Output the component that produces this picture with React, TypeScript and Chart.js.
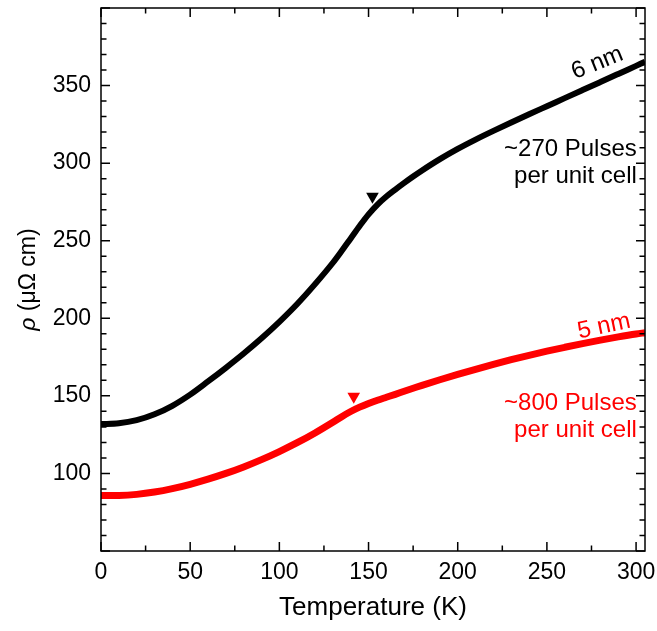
import React, { useEffect, useRef } from "react";
import { Chart, registerables } from "chart.js";

Chart.register(...registerables);

const FONT = "'Liberation Sans', Arial, sans-serif";

// Temperature (K)
const temps = [0, 10, 20, 30, 40, 50, 60, 70, 80, 90, 100, 110, 120, 130, 135, 140, 145, 150, 155, 160, 165, 170, 175, 180, 190, 200, 210, 220, 230, 240, 250, 260, 270, 280, 290, 300, 305];
// 6 nm film resistivity (µΩ cm)
const rho6nm = [131.8, 132.3, 134.3, 138.1, 143.6, 150.8, 159.3, 168.1, 177.3, 187.1, 197.7, 209.2, 222, 235.8, 243.5, 251.5, 259.5, 267, 273.3, 278.5, 283, 287.3, 291.4, 295.3, 302.6, 309.2, 315.2, 320.8, 326.2, 331.5, 336.7, 341.9, 347.1, 352.3, 357.5, 362.7, 365.3];
// 5 nm film resistivity (µΩ cm)
const rho5nm = [85.7, 85.8, 86.5, 88, 90.2, 93, 96.3, 100, 104.2, 108.9, 114.1, 119.8, 126.1, 133, 136.6, 139.9, 142.7, 145.1, 147.2, 149.1, 151, 153, 154.9, 156.8, 160.4, 163.8, 167.1, 170.3, 173.3, 176.1, 178.8, 181.3, 183.7, 185.9, 188, 189.9, 190.7];

// transition markers
const marker6T = [152.2];
const marker6Rho = [278.5];
const marker5T = [141.7];
const marker5Rho = [149.6];

const xTickValues = [0, 50, 100, 150, 200, 250, 300];
const yTickValues = [100, 150, 200, 250, 300, 350];

const framePlugin = {
  id: "framePlugin",
  afterDatasetsDraw(chart: any) {
    const { ctx, scales } = chart;
    const x = scales.x;
    const y = scales.y;
    ctx.save();
    const drawRot = (text: string, tx: number, ty: number, ang: number, color: string) => {
      ctx.save();
      ctx.translate(x.getPixelForValue(tx), y.getPixelForValue(ty));
      ctx.rotate((ang * Math.PI) / 180);
      ctx.fillStyle = color;
      ctx.font = `24px ${FONT}`;
      ctx.textAlign = "center";
      ctx.textBaseline = "middle";
      ctx.fillText(text, 0, 0);
      ctx.restore();
    };
    drawRot("6 nm", 278.3, 364.4, -22, "#000");
    drawRot("5 nm", 282, 194.7, -12, "#ff0000");
    ctx.font = `24px ${FONT}`;
    ctx.textAlign = "right";
    ctx.textBaseline = "alphabetic";
    ctx.fillStyle = "#000";
    ctx.fillText("~270 Pulses", x.getPixelForValue(300.4), y.getPixelForValue(304.6));
    ctx.fillText("per unit cell", x.getPixelForValue(300.4), y.getPixelForValue(287.2));
    ctx.fillStyle = "#ff0000";
    ctx.fillText("~800 Pulses", x.getPixelForValue(300.4), y.getPixelForValue(140.9));
    ctx.fillText("per unit cell", x.getPixelForValue(300.4), y.getPixelForValue(123.7));
    ctx.restore();
  },
  afterDraw(chart: any) {
    const { ctx, chartArea, scales } = chart;
    const { left, top, right, bottom } = chartArea;
    const x = scales.x;
    const y = scales.y;
    ctx.save();
    ctx.strokeStyle = "#000";
    ctx.lineWidth = 1.5;
    ctx.strokeRect(left, top, right - left, bottom - top);
    ctx.beginPath();
    for (let v = 0; v <= 305; v += 25) {
      const px = x.getPixelForValue(v);
      const len = v % 50 === 0 ? 9 : 5.5;
      ctx.moveTo(px, bottom);
      ctx.lineTo(px, bottom - len);
      ctx.moveTo(px, top);
      ctx.lineTo(px, top + len);
    }
    for (let v = 50; v <= 400; v += 10) {
      const py = y.getPixelForValue(v);
      const len = v % 50 === 0 ? 9 : 5.5;
      ctx.moveTo(left, py);
      ctx.lineTo(left + len, py);
      ctx.moveTo(right, py);
      ctx.lineTo(right - len, py);
    }
    ctx.stroke();
    // y-axis title with italic rho
    const cy = (top + bottom) / 2;
    ctx.translate(29, cy);
    ctx.rotate(-Math.PI / 2);
    ctx.fillStyle = "#000";
    ctx.textBaseline = "middle";
    ctx.textAlign = "left";
    const fi = `italic 23px ${FONT}`;
    const fn = `23px ${FONT}`;
    ctx.font = fi;
    const w1 = ctx.measureText("ρ").width;
    ctx.font = fn;
    const rest = " (μΩ cm)";
    const w2 = ctx.measureText(rest).width;
    const start = -(w1 + w2) / 2;
    ctx.font = fi;
    ctx.fillText("ρ", start, 0);
    ctx.font = fn;
    ctx.fillText(rest, start + w1, 0);
    ctx.restore();
  },
};

export default function App() {
  const ref = useRef<HTMLCanvasElement | null>(null);
  useEffect(() => {
    if (!ref.current) return;
    const chart = new Chart(ref.current, {
      type: "line",
      data: {
        datasets: [
          {
            label: "6 nm",
            data: temps.map((t, i) => ({ x: t, y: rho6nm[i] })),
            borderColor: "#000",
            borderWidth: 6,
            pointRadius: 0,
            cubicInterpolationMode: "monotone",
          },
          {
            label: "5 nm",
            data: temps.map((t, i) => ({ x: t, y: rho5nm[i] })),
            borderColor: "#ff0000",
            borderWidth: 7,
            pointRadius: 0,
            cubicInterpolationMode: "monotone",
          },
          {
            label: "6 nm marker",
            data: marker6T.map((t, i) => ({ x: t, y: marker6Rho[i] })),
            showLine: false,
            pointStyle: "triangle",
            rotation: 180,
            pointRadius: 7.3,
            backgroundColor: "#000",
            borderColor: "#000",
            borderWidth: 0,
          },
          {
            label: "5 nm marker",
            data: marker5T.map((t, i) => ({ x: t, y: marker5Rho[i] })),
            showLine: false,
            pointStyle: "triangle",
            rotation: 180,
            pointRadius: 7.3,
            backgroundColor: "#ff0000",
            borderColor: "#ff0000",
            borderWidth: 0,
          },
        ],
      },
      options: {
        responsive: false,
        animation: false,
        devicePixelRatio: 1,
        layout: { padding: { top: 8, right: 12, left: 0, bottom: 0 } },
        plugins: { legend: { display: false }, tooltip: { enabled: false } },
        scales: {
          x: {
            type: "linear",
            min: 0,
            max: 305,
            afterBuildTicks: (s: any) => {
              s.ticks = xTickValues.map((v) => ({ value: v }));
            },
            afterFit: (s: any) => {
              s.height = 80;
              s.paddingLeft = 0;
              s.paddingRight = 0;
            },
            grid: { display: false, drawTicks: false },
            border: { display: false },
            ticks: {
              color: "#000",
              font: { family: FONT, size: 23 },
              padding: 8,
              maxRotation: 0,
              autoSkip: false,
            },
            title: {
              display: true,
              text: "Temperature (K)",
              color: "#000",
              font: { family: FONT, size: 26 },
              padding: { top: 0, bottom: 8 },
            },
          },
          y: {
            type: "linear",
            min: 50,
            max: 400,
            afterBuildTicks: (s: any) => {
              s.ticks = yTickValues.map((v) => ({ value: v }));
            },
            afterFit: (s: any) => {
              s.width = 101;
              s.paddingTop = 0;
              s.paddingBottom = 0;
            },
            grid: { display: false, drawTicks: false },
            border: { display: false },
            ticks: {
              color: "#000",
              font: { family: FONT, size: 23 },
              padding: 10,
              autoSkip: false,
            },
          },
        },
      },
      plugins: [framePlugin],
    } as any);
    return () => chart.destroy();
  }, []);
  return (
    <div style={{ position: "absolute", left: 0, top: 0, width: 657, height: 631 }}>
      <canvas ref={ref} width={657} height={631} style={{ display: "block" }} />
    </div>
  );
}
